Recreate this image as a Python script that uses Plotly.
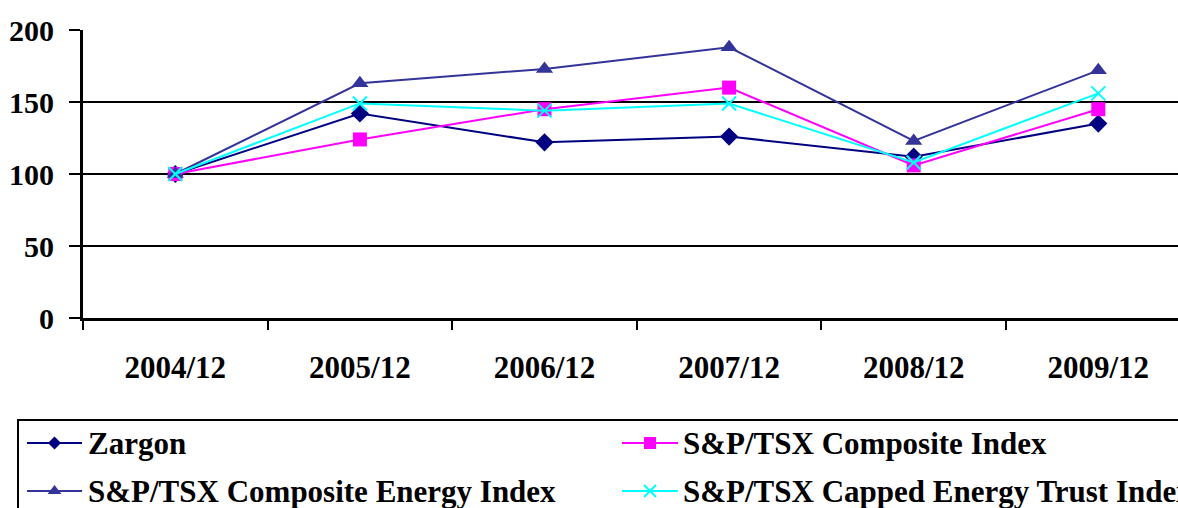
import plotly.graph_objects as go

categories = ["2004/12", "2005/12", "2006/12", "2007/12", "2008/12", "2009/12"]
series_names = ["Zargon", "S&P/TSX Composite Index",
                "S&P/TSX Composite Energy Index", "S&P/TSX Capped Energy Trust Index"]
zargon = [100, 142, 122, 126, 112, 135]
composite = [100, 124, 145, 160, 106, 145]
energy = [100, 163, 173, 188, 123, 172]
capped = [100, 149, 144, 149, 108, 156]
y_ticks = [0, 50, 100, 150, 200]

values = [zargon, composite, energy, capped]
colors = ["#000080", "#FF00FF", "#333399", "#00FFFF"]
symbols = ["diamond", "square", "triangle-up", "x-thin"]
msizes = [14, 14, 15, 14]
leg_msizes = [10, 12, 12, 12]

W, H = 1178, 508
OFF = 0  # body margin is removed below, so figure pixels = page pixels
FONT = "Liberation Serif"
FS = 31
FS_Y = 30

def px_x(p):
    return (p - OFF) / W

def px_y(p):
    return 1 - (p - OFF) / H

fig = go.Figure()
for name, vals, c, s, ms in zip(series_names, values, colors, symbols, msizes):
    fig.add_trace(go.Scatter(
        x=categories, y=vals, name=name, mode="lines+markers",
        line=dict(color=c, width=2),
        marker=dict(symbol=s, size=ms, color=c, line=dict(color=c, width=2 if s == "x-thin" else 0)),
        showlegend=False, xaxis="x", yaxis="y"))

# hand-built legend (clipped at the figure edges like the reference)
leg_left, leg_top = 18, 420
row_y = [443, 491]
col_line = [(27, 82), (622, 678)]
col_text = [86, 681]
order = [(0, 0), (0, 1), (1, 0), (1, 1)]  # (row, col) per series
for i, (r, cidx) in enumerate(order):
    x0, x1 = col_line[cidx]
    yy = row_y[r]
    fig.add_trace(go.Scatter(
        x=[x0 - OFF, x1 - OFF], y=[yy - OFF, yy - OFF], mode="lines",
        line=dict(color=colors[i], width=2), showlegend=False,
        hoverinfo="skip", xaxis="x2", yaxis="y2"))
    fig.add_trace(go.Scatter(
        x=[(x0 + x1) / 2 - OFF], y=[yy - OFF], mode="markers",
        marker=dict(symbol=symbols[i], size=leg_msizes[i], color=colors[i],
                    line=dict(color=colors[i], width=2 if symbols[i] == "x-thin" else 0)),
        showlegend=False, hoverinfo="skip", xaxis="x2", yaxis="y2"))
    fig.add_annotation(x=px_x(col_text[cidx]), y=px_y(yy), xref="paper", yref="paper",
                       xanchor="left", yanchor="middle", showarrow=False,
                       text="<b>" + series_names[i].replace("&", "&amp;") + "</b>",
                       font=dict(family=FONT, size=FS, color="black"))

fig.add_shape(type="rect", xref="paper", yref="paper",
              x0=px_x(leg_left), x1=1.2, y0=px_y(leg_top), y1=-0.3,
              line=dict(color="black", width=2), fillcolor="rgba(0,0,0,0)")

plot_left, plot_top, plot_bottom = 83, 30, 318
cat_step = 184.6
fig.update_layout(
    width=W, height=H,
    margin=dict(l=0, r=0, t=0, b=0, autoexpand=False),
    paper_bgcolor="white", plot_bgcolor="rgba(0,0,0,0)",
    font=dict(family=FONT, size=FS, color="black"),
    showlegend=False,
    xaxis=dict(type="category", categoryorder="array", categoryarray=categories,
               domain=[px_x(plot_left), 1],
               range=[-0.5, -0.5 + (W + OFF - plot_left) / cat_step],
               tickson="boundaries", ticks="outside", ticklen=9, tickwidth=2, tickcolor="black",
               showline=True, linecolor="black", linewidth=3, showgrid=False, zeroline=False,
               tickfont=dict(family=FONT, size=FS, color="black", weight="bold"),
               ticklabelstandoff=20, automargin=False, anchor="y"),
    yaxis=dict(range=[0, 200], tickvals=y_ticks, domain=[px_y(plot_bottom), px_y(plot_top)],
               ticks="outside", ticklen=11, tickwidth=2, tickcolor="black",
               showline=True, linecolor="black", linewidth=3,
               showgrid=True, gridcolor="black", gridwidth=2, zeroline=False,
               tickfont=dict(family=FONT, size=FS_Y, color="black", weight="bold"),
               ticklabelstandoff=9, automargin=False, anchor="x"),
    xaxis2=dict(domain=[0, 1], range=[0, W], visible=False, anchor="y2", fixedrange=True),
    yaxis2=dict(domain=[0, 1], range=[H, 0], visible=False, anchor="x2", fixedrange=True),
)

fig.write_html("out.html",
               config={"displayModeBar": False},
               post_script="document.body.style.margin='0px';"
                           "document.body.style.overflow='hidden';")
